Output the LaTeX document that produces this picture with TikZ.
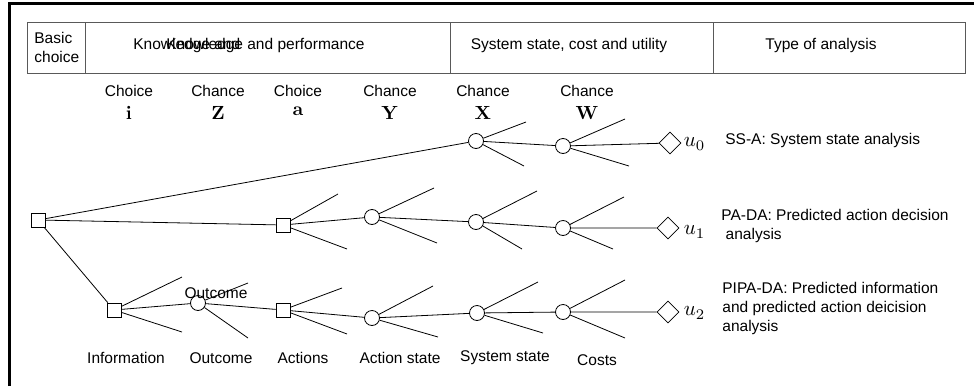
\documentclass[tikz,border=0pt]{standalone}
\usepackage[no-math]{fontspec}
\setmainfont{Liberation Sans}
\usetikzlibrary{shapes.geometric}
\begin{document}
\begin{tikzpicture}[x=1pt,y=-1pt,line width=0.8pt,
  txt/.style={font=\fontsize{15.5}{19}\selectfont, inner sep=0pt},
  sym/.style={font=\normalsize, scale=1.9, inner sep=0pt},
  usym/.style={font=\normalsize, scale=2.1, inner sep=0pt},
  choicebox/.style={draw, fill=white, minimum size=14pt, inner sep=0pt},
  chancenode/.style={circle, draw, fill=white, minimum size=15pt, inner sep=0pt},
  utilnode/.style={diamond, draw, fill=white, minimum size=22pt, inner sep=0pt},
  hdr/.style={draw=gray!70!black, line width=0.6pt},
  frame/.style={line width=3pt}]
\useasboundingbox (0,0) rectangle (974,386);
% outer frame
\coordinate (f1) at (9,386);
\coordinate (f2) at (9,3);
\coordinate (f3) at (974,3);
\draw[frame] (f1) -- (f2) -- (f3);
% header table
\coordinate (h1) at (27,22);
\coordinate (h2) at (965,73);
\draw[hdr] (h1) rectangle (h2);
\coordinate (d1a) at (85,22); \coordinate (d1b) at (85,73);
\coordinate (d2a) at (450,22); \coordinate (d2b) at (450,73);
\coordinate (d3a) at (713,22); \coordinate (d3b) at (713,73);
\draw[hdr] (d1a) -- (d1b) (d2a) -- (d2b) (d3a) -- (d3b);
\node[txt, align=left, anchor=west] (hb) at (34,47) {Basic\\choice};
\node[txt, anchor=west] (hk2) at (133,45) {Knowledge and};
\node[txt, anchor=west] (hk) at (166,45) {Knowledge and performance};
\node[txt] (hs) at (569,45) {System state, cost and utility};
\node[txt] (ht) at (821,45) {Type of analysis};
% column headers
\node[txt] (c1) at (129,91) {Choice};
\node[sym] (s1) at (129,113) {$\mathbf{i}$};
\node[txt] (c2) at (218,91) {Chance};
\node[sym] (s2) at (218,113) {$\mathbf{Z}$};
\node[txt] (c3) at (298,91) {Choice};
\node[sym] (s3) at (298,111) {$\mathbf{a}$};
\node[txt] (c4) at (390,91) {Chance};
\node[sym] (s4) at (390,113) {$\mathbf{Y}$};
\node[txt] (c5) at (483,91) {Chance};
\node[sym] (s5) at (483,113) {$\mathbf{X}$};
\node[txt] (c6) at (587,91) {Chance};
\node[sym] (s6) at (587,113) {$\mathbf{W}$};
% nodes
\node[choicebox] (R) at (38,220) {};
\node[chancenode] (X0) at (476,141) {};
\node[chancenode] (W0) at (563,146) {};
\node[utilnode] (U0) at (670,143) {};
\node[choicebox] (A1) at (283,225) {};
\node[chancenode] (Y1) at (372,217) {};
\node[chancenode] (X1) at (476,222) {};
\node[chancenode] (W1) at (563,228) {};
\node[utilnode] (U1) at (668,228) {};
\node[choicebox] (I2) at (114,310) {};
\node[chancenode] (Z2) at (198,303) {};
\node[choicebox] (A2) at (283,310) {};
\node[chancenode] (Y2) at (372,318) {};
\node[chancenode] (X2) at (477,313) {};
\node[chancenode] (W2) at (563,312) {};
\node[utilnode] (U2) at (668,312) {};
% main edges
\draw (R) -- (X0) (X0) -- (W0) (W0) -- (U0);
\draw (R) -- (A1) (A1) -- (Y1) (Y1) -- (X1) (X1) -- (W1) (W1) -- (U1);
\draw (R) -- (I2) (I2) -- (Z2) (Z2) -- (A2) (A2) -- (Y2) (Y2) -- (X2) (X2) -- (W2) (W2) -- (U2);
% branch end points
\coordinate (x0u) at (526,122); \coordinate (x0d) at (524,166);
\coordinate (w0u) at (625,119); \coordinate (w0d) at (629,166);
\coordinate (a1u) at (338,194); \coordinate (a1d) at (347,249);
\coordinate (y1u) at (434,188); \coordinate (y1d) at (437,243);
\coordinate (x1u) at (537,191); \coordinate (x1d) at (522,249);
\coordinate (w1u) at (624,197); \coordinate (w1d) at (613,249);
\coordinate (i2u) at (182,277); \coordinate (i2d) at (182,332);
\coordinate (z2u) at (248,283); \coordinate (z2d) at (248,338);
\coordinate (a2u) at (342,288); \coordinate (a2d) at (347,334);
\coordinate (y2u) at (433,286); \coordinate (y2d) at (438,337);
\coordinate (x2u) at (538,282); \coordinate (x2d) at (543,333);
\coordinate (w2u) at (625,280); \coordinate (w2d) at (625,338);
\draw (X0) -- (x0u) (X0) -- (x0d) (W0) -- (w0u) (W0) -- (w0d);
\draw (A1) -- (a1u) (A1) -- (a1d) (Y1) -- (y1u) (Y1) -- (y1d);
\draw (X1) -- (x1u) (X1) -- (x1d) (W1) -- (w1u) (W1) -- (w1d);
\draw (I2) -- (i2u) (I2) -- (i2d) (Z2) -- (z2u) (Z2) -- (z2d);
\draw (A2) -- (a2u) (A2) -- (a2d) (Y2) -- (y2u) (Y2) -- (y2d);
\draw (X2) -- (x2u) (X2) -- (x2d) (W2) -- (w2u) (W2) -- (w2d);
% overlapping outcome label
\node[txt] (zo) at (216,293) {Outcome};
% bottom labels
\node[txt] (b1) at (126,358) {Information};
\node[txt] (b2) at (221,358) {Outcome};
\node[txt] (b3) at (303,358) {Actions};
\node[txt] (b4) at (400,358) {Action state};
\node[txt] (b5) at (505,358) {System state};
\node[txt] (b6) at (597,360) {Costs};
% utilities
\node[usym, anchor=west] (u0) at (683,144) {$u_0$};
\node[usym, anchor=west] (u1) at (683,232) {$u_1$};
\node[usym, anchor=west] (u2) at (683,313) {$u_2$};
% analysis types
\node[txt, anchor=west] (t0) at (725,140) {SS-A: System state analysis};
\node[txt, anchor=north west, align=left] (t1) at (721,209) {PA-DA: Predicted action decision\\\ analysis};
\node[txt, anchor=north west, align=left] (t2) at (722,282) {PIPA-DA: Predicted information\\and predicted action deicision\\analysis};
\end{tikzpicture}
\end{document}
